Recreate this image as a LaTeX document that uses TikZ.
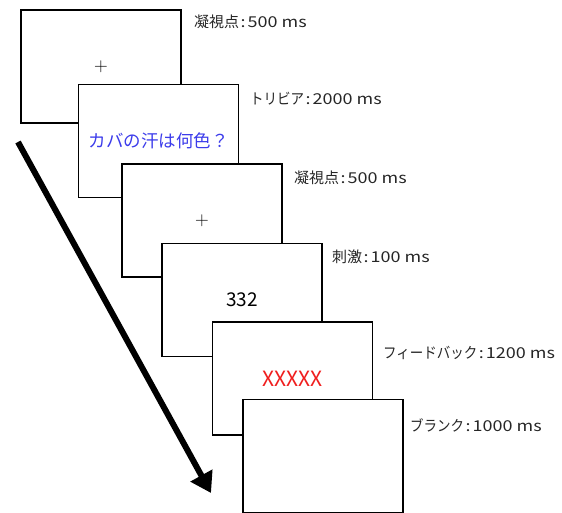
\documentclass[tikz,border=0pt]{standalone}
\usepackage{fontspec}
\setmainfont{Noto Sans CJK JP}
\newfontfamily\latw[FakeStretch=1.2]{Noto Sans CJK JP}
\newfontfamily\kanaf[FakeStretch=0.9]{Noto Sans CJK JP}
\newfontfamily\lmplus{Latin Modern Roman}
\usetikzlibrary{arrows.meta}
\definecolor{qblue}{RGB}{60,60,235}
\definecolor{fbred}{RGB}{240,30,30}
\newcommand{\tcolon}{\kern1.5pt:\kern2pt}
\begin{document}
\begin{tikzpicture}[x=1pt,y=-1pt,
  screen/.style={draw=black,line width=1.6pt,fill=white,rectangle,minimum width=160pt,minimum height=113pt,inner sep=0pt,font=\fontsize{16}{18}\selectfont},
  lab/.style={anchor=west,inner sep=0pt,font=\fontsize{15}{17}\selectfont,text=black!85}]
\useasboundingbox (0,0) rectangle (562,512);
\clip (0,0) rectangle (562,512);
\coordinate (astart) at (18,142);
\coordinate (aend) at (211,493);
\draw[line width=6pt,-{Triangle[length=20pt,width=24pt]}] (astart) -- (aend);
\node[screen,font=\lmplus\fontsize{19}{20}\selectfont] (s1) at (101,66.5) {+};
\node[screen,text=qblue,font=\fontsize{17.5}{19}\selectfont] (s2) at (158.5,141) {カバの汗は何色？};
\node[screen,font=\lmplus\fontsize{19}{20}\selectfont] (s3) at (202,220.5) {+};
\node[screen,font=\fontsize{19}{21}\selectfont] (s4) at (242,300) {332};
\node[screen,text=fbred,font=\fontsize{21}{23}\selectfont] (s5) at (292.5,378.5) {XXXXX};
\node[screen] (s6) at (323,456) {};
\node[lab] (l1) at (194,22) {凝視点{\latw\tcolon 500 ms}};
\node[lab] (l2) at (250,99) {{\kanaf トリビア}{\latw\tcolon 2000 ms}};
\node[lab] (l3) at (294,178) {凝視点{\latw\tcolon 500 ms}};
\node[lab] (l4) at (332,257) {刺激{\latw\tcolon 100 ms}};
\node[lab] (l5) at (383,353) {{\kanaf フィードバック}{\latw\tcolon 1200 ms}};
\node[lab] (l6) at (410,425) {{\kanaf ブランク}{\latw\tcolon 1000 ms}};
\end{tikzpicture}
\end{document}
